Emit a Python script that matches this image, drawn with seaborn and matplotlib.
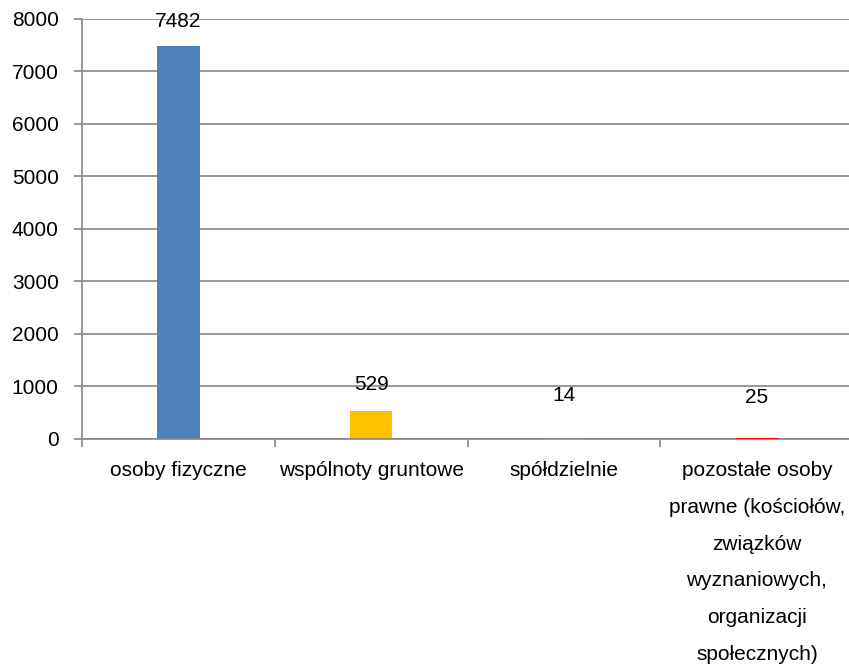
import matplotlib
matplotlib.use("Agg")
import matplotlib.pyplot as plt
import seaborn as sns
import pandas as pd

categories = ["osoby fizyczne", "wspólnoty gruntowe", "spółdzielnie",
              "pozostałe osoby prawne (kościołów, związków wyznaniowych, organizacji społecznych)"]
tick_labels = ["osoby fizyczne", "wspólnoty gruntowe", "spółdzielnie",
               "pozostałe osoby\nprawne (kościołów,\nzwiązków\nwyznaniowych,\norganizacji\nspołecznych)"]
values = [7482, 529, 14, 25]
colors = ["#4F81BD", "#FFC000", "#9BBB59", "#FF0000"]
yticks = [0, 1000, 2000, 3000, 4000, 5000, 6000, 7000, 8000]

sns.set_theme(style="white")
plt.rcParams["font.family"] = ["Liberation Sans", "DejaVu Sans"]
plt.rcParams["text.color"] = "black"
plt.rcParams["xtick.color"] = "black"
plt.rcParams["ytick.color"] = "black"

df = pd.DataFrame({"cat": categories, "val": values})

fig = plt.figure(figsize=(8.49, 6.66), dpi=100)
ax = fig.add_axes([0.0966, 0.341, 0.9034 + 0.005, 0.6305])

sns.barplot(data=df, x="cat", y="val", hue="cat", palette=colors,
            width=0.22, legend=False, ax=ax, zorder=3, saturation=1,
            linewidth=0, edgecolor="none")
# keep the tiny red bar drawn above the axis line, as in the original
ax.patches[3].set_zorder(4)

grid_c = "#868686"
fs = 15
ax.set_ylim(0, 8000)
ax.set_xlim(-0.5, 3.5)
ax.set_yticks(yticks)
ax.set_yticklabels([str(t) for t in yticks], fontsize=fs, color="black")
ax.yaxis.grid(True, color=grid_c, linewidth=1.2, zorder=0)
ax.set_axisbelow(True)
ax.tick_params(axis="y", length=5.8, width=1.2, color=grid_c, labelcolor="black",
               direction="out", pad=11, left=True)

ax.set_xticks([0, 1, 2, 3])
ax.set_xticklabels(tick_labels, fontsize=fs, linespacing=2.18, va="top", color="black")
ax.set_xticks([-0.5, 0.5, 1.5, 2.5, 3.5], minor=True)
ax.tick_params(axis="x", which="major", length=0, pad=16, labelcolor="black")
ax.tick_params(axis="x", which="minor", length=5.8, width=1.2, color=grid_c,
               direction="out", bottom=True)

for s in ["top", "right"]:
    ax.spines[s].set_visible(False)
for s in ["left", "bottom"]:
    ax.spines[s].set_color(grid_c)
    ax.spines[s].set_linewidth(1.2)
    ax.spines[s].set_zorder(3.5)
ax.set_xlabel("")
ax.set_ylabel("")

pads = [18, 19.5, 31, 29]
for i, (v, p) in enumerate(zip(values, pads)):
    ax.annotate(str(v), (i, v), xytext=(0, p), textcoords="offset points",
                ha="center", va="center", fontsize=fs, color="black",
                annotation_clip=False)

fig.savefig("out.png", dpi=100)
